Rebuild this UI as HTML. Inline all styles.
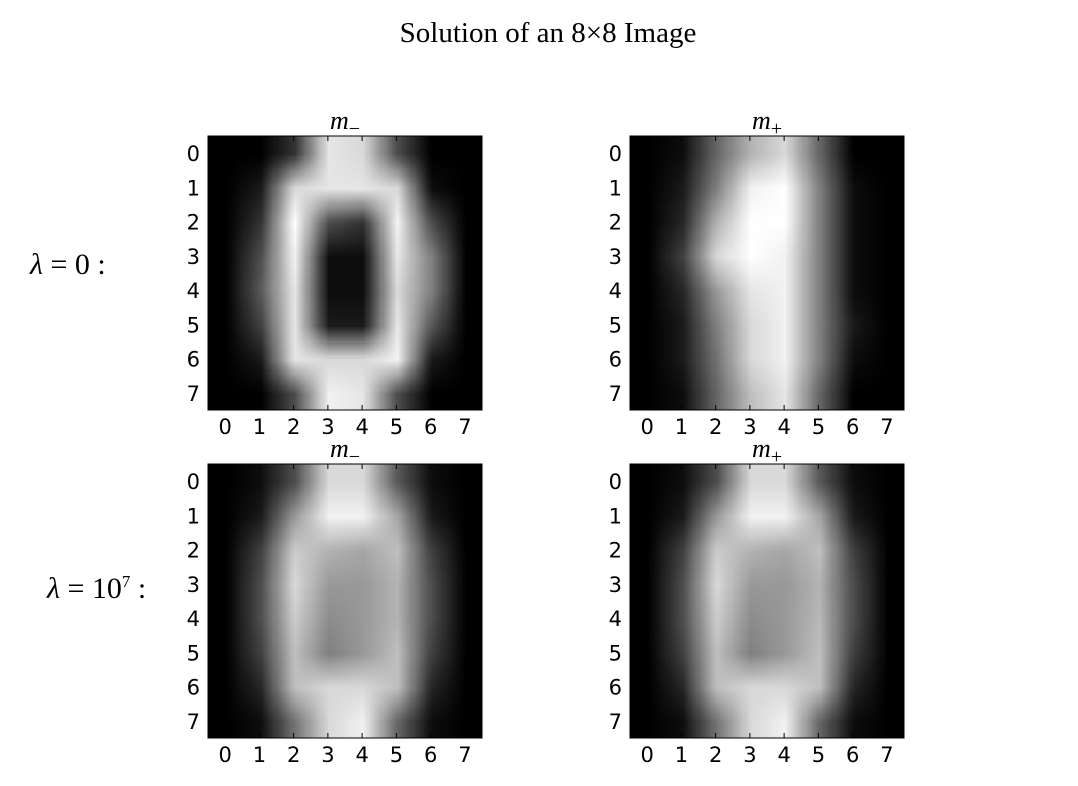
<!DOCTYPE html>
<html><head><meta charset="utf-8"><style>
body{margin:0;background:#fff;width:1078px;height:786px;overflow:hidden;position:relative;font-family:"DejaVu Sans",sans-serif}
.t{position:absolute;white-space:nowrap}
</style></head><body>
<div class="t" style="left:0;width:1096px;text-align:center;top:17px;font-family:'Liberation Serif',serif;font-size:29px">Solution of an 8×8 Image</div>
<div class="t" style="left:30px;top:248px;font-family:'Liberation Serif',serif;font-size:30px"><i>λ</i> = 0 :</div>
<div class="t" style="left:47px;top:572px;font-family:'Liberation Serif',serif;font-size:30px"><i>λ</i> = 10<sup style="font-size:17px">7</sup> :</div>
<svg id="s" width="1078" height="786" style="position:absolute;left:0;top:0"></svg>
<script>
const ticks=[0,1,2,3,4,5,6,7];
const topMinus=[[0,0,0.2,0.9,0.85,0.3,0,0],[0,0.1,0.85,0.9,0.9,0.85,0.05,0],[0,0.2,1,0.3,0.2,0.95,0.3,0],[0,0.3,0.95,0.05,0.05,0.9,0.5,0],[0,0.35,0.9,0.05,0.05,0.85,0.5,0],[0,0.25,0.9,0.1,0.1,0.9,0.35,0],[0,0.1,0.9,0.85,0.85,0.95,0.1,0],[0,0,0.3,0.95,0.9,0.3,0,0]];
const topPlus=[[0,0.05,0.4,0.7,0.85,0.4,0,0],[0,0.1,0.5,0.95,1,0.5,0.05,0],[0,0.15,0.7,1,1,0.5,0.05,0],[0,0.25,0.85,1,0.95,0.5,0.05,0],[0,0.15,0.6,0.9,0.95,0.5,0.05,0],[0,0.1,0.5,0.85,0.95,0.5,0.1,0],[0,0.1,0.45,0.85,0.95,0.5,0.05,0],[0,0.05,0.4,0.75,0.9,0.4,0,0]];
const botMinus=[[0,0.05,0.3,0.85,0.85,0.35,0.05,0],[0,0.1,0.6,0.95,0.95,0.65,0.1,0],[0,0.25,0.8,0.7,0.65,0.75,0.25,0],[0,0.3,0.85,0.6,0.6,0.7,0.3,0],[0,0.3,0.8,0.55,0.6,0.7,0.3,0],[0,0.25,0.75,0.5,0.6,0.75,0.25,0],[0,0.15,0.75,0.85,0.85,0.75,0.15,0],[0,0.05,0.45,0.85,0.95,0.4,0.05,0]];
const botPlus=[[0,0.05,0.3,0.85,0.85,0.35,0.05,0],[0,0.1,0.6,0.95,0.95,0.65,0.1,0],[0,0.25,0.8,0.7,0.65,0.75,0.25,0],[0,0.3,0.85,0.6,0.6,0.7,0.3,0],[0,0.3,0.8,0.55,0.6,0.72,0.3,0],[0,0.25,0.75,0.5,0.6,0.75,0.25,0],[0,0.15,0.75,0.85,0.85,0.75,0.15,0],[0,0.05,0.45,0.85,0.95,0.4,0.05,0]];
const panels=[{d:topMinus,x:208,y:136,t:'m',sub:'−',n:'top-left-m-minus'},{d:topPlus,x:630,y:136,t:'m',sub:'+',n:'top-right-m-plus'},{d:botMinus,x:208,y:464,t:'m',sub:'−',n:'bottom-left-m-minus'},{d:botPlus,x:630,y:464,t:'m',sub:'+',n:'bottom-right-m-plus'}];
const W=274,NS='http://www.w3.org/2000/svg',svg=document.getElementById('s');
function mk(tag,a){const e=document.createElementNS(NS,tag);for(const k in a)e.setAttribute(k,a[k]);svg.appendChild(e);return e;}
panels.forEach(p=>{
  const n=p.d.length,cell=W/n;
  const sx=i=>p.x+(i+0.5)*cell, sy=j=>p.y+(j+0.5)*cell;
  const src=document.createElement('canvas');src.width=n;src.height=n;
  const sc=src.getContext('2d'),img=sc.createImageData(n,n);
  p.d.forEach((row,j)=>row.forEach((v,i)=>{const k=(j*n+i)*4,g=Math.round(v*255);img.data[k]=img.data[k+1]=img.data[k+2]=g;img.data[k+3]=255;}));
  sc.putImageData(img,0,0);
  const c=document.createElement('canvas');c.width=W;c.height=W;
  c.style.cssText=`position:absolute;left:${p.x}px;top:${p.y}px`;
  
  
  const cx=c.getContext('2d');cx.imageSmoothingEnabled=true;cx.imageSmoothingQuality='low';cx.drawImage(src,0,0,W,W);
  document.body.insertBefore(c,svg);
  const fr=mk('rect',{x:p.x,y:p.y,width:W,height:W,fill:'none',stroke:'#000','stroke-width':1});
  
  
  ticks.forEach(t=>{
    mk('line',{x1:sx(t),x2:sx(t),y1:p.y,y2:p.y+5,stroke:'#000'});
    mk('line',{x1:sx(t),x2:sx(t),y1:p.y+W,y2:p.y+W-5,stroke:'#000'});
    mk('line',{x1:p.x,x2:p.x+5,y1:sy(t),y2:sy(t),stroke:'#000'});
    mk('line',{x1:p.x+W,x2:p.x+W-5,y1:sy(t),y2:sy(t),stroke:'#000'});
    const xl=mk('text',{x:sx(t),y:p.y+W+24,'text-anchor':'middle','font-size':21,'font-family':'DejaVu Sans,sans-serif'});xl.textContent=t;
    
    
    const yl=mk('text',{x:p.x-8,y:sy(t)+8,'text-anchor':'end','font-size':21,'font-family':'DejaVu Sans,sans-serif'});yl.textContent=t;
    
    
  });
  const tt=mk('text',{x:p.x+W/2,y:p.y-7,'text-anchor':'middle','font-size':26,'font-family':'Liberation Serif,serif','font-style':'italic'});
  tt.innerHTML=p.t+'<tspan font-style="normal" font-size="20" dy="6">'+p.sub+'</tspan>';
  
  
});
</script>
</body></html>
